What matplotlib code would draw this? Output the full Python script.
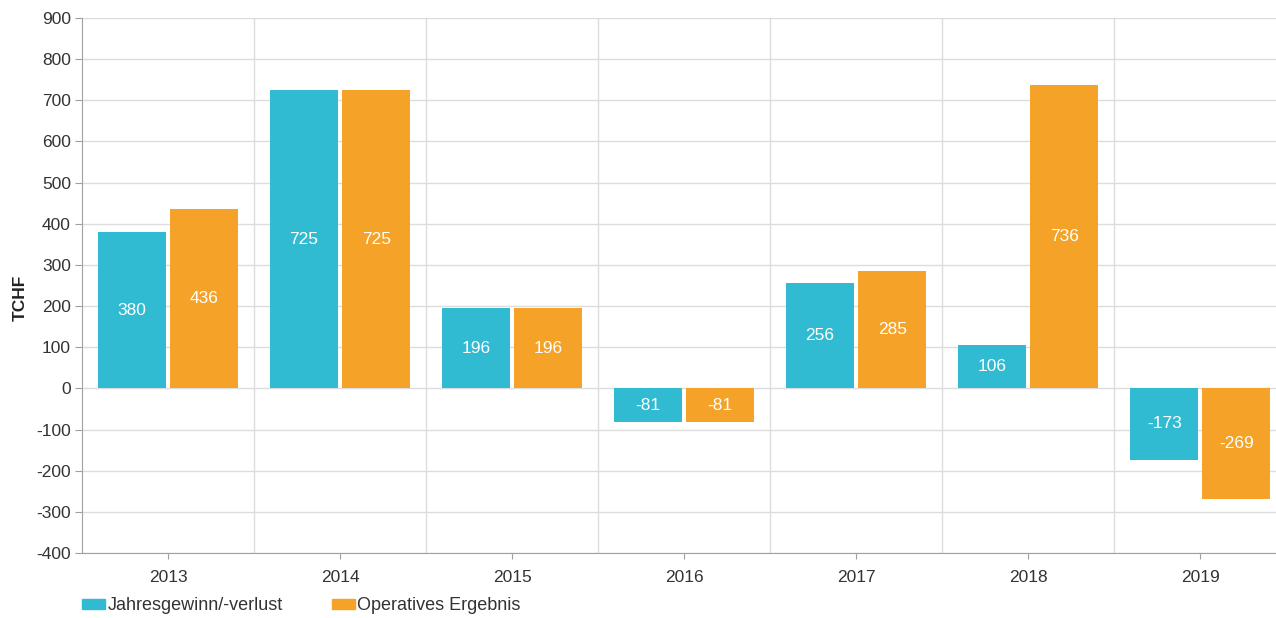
import matplotlib
matplotlib.use("Agg")
import matplotlib.pyplot as plt
from matplotlib.patches import Patch

plt.rcParams['font.family'] = ['Liberation Sans', 'DejaVu Sans']
plt.rcParams['axes.unicode_minus'] = False

years = ['2013', '2014', '2015', '2016', '2017', '2018', '2019']
jahresgewinn = [380, 725, 196, -81, 256, 106, -173]
operativ = [436, 725, 196, -81, 285, 736, -269]

c_cyan = '#31BBD2'
c_orange = '#F5A228'

fig = plt.figure(figsize=(12.76, 6.18), dpi=100)
ax = fig.add_axes([82 / 1276, 1 - 553 / 618, 1 - 82 / 1276, (553 - 18) / 618])

x = list(range(len(years)))
w = 0.395
off = 0.21
b1 = ax.bar([i - off for i in x], jahresgewinn, w, color=c_cyan, zorder=3)
b2 = ax.bar([i + off for i in x], operativ, w, color=c_orange, zorder=3)

# value labels in the middle of each bar
for bars, vals in ((b1, jahresgewinn), (b2, operativ)):
    for r, v in zip(bars, vals):
        ax.text(r.get_x() + r.get_width() / 2, v / 2, str(v), ha='center', va='center',
                color='white', fontsize=12.5, zorder=4)

ax.set_ylim(-400, 900)
ax.set_yticks(range(-400, 901, 100))
ax.set_xlim(-0.5, 6.44)
ax.set_xticks(x)
ax.set_xticklabels(years)

# horizontal grid + vertical separators between years
ax.grid(axis='y', color='#dcdcdc', lw=1, zorder=0)
for i in range(len(years)):
    ax.axvline(i + 0.5, color='#dcdcdc', lw=1, zorder=0)

for s in ('top', 'right'):
    ax.spines[s].set_visible(False)
ax.spines['left'].set_color('#a0a0a0')
ax.spines['bottom'].set_color('#a0a0a0')
ax.tick_params(axis='y', length=5, color='#a0a0a0', labelsize=12.5, labelcolor='#333333', pad=3)
ax.tick_params(axis='x', length=4, color='#a0a0a0', labelsize=12.5, labelcolor='#333333', pad=8)

fig.text(20 / 1276, 1 - 298 / 618, 'TCHF', rotation=90, ha='center', va='center',
         fontsize=12.5, fontweight='bold', color='#222222')

handles = [Patch(color=c_cyan), Patch(color=c_orange)]
fig.legend(handles, ['Jahresgewinn/-verlust', 'Operatives Ergebnis'], loc='center left',
           bbox_to_anchor=(82 / 1276, 1 - 606 / 618), ncol=2, frameon=False,
           fontsize=13, handlelength=1.28, handleheight=0.5, handletextpad=0.12,
           columnspacing=2.75, borderaxespad=0, borderpad=0, labelcolor='#333333')

fig.savefig('out.png', dpi=100)
